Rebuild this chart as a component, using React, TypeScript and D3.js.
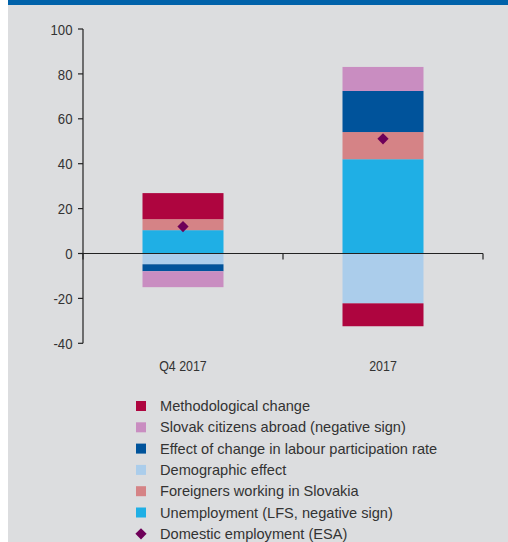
import React from "react";
import * as d3 from "d3";

const categories = ["Q4 2017", "2017"];
const seriesNames = [
  "Unemployment (LFS, negative sign)",
  "Foreigners working in Slovakia",
  "Demographic effect",
  "Effect of change in labour participation rate",
  "Slovak citizens abroad (negative sign)",
  "Methodological change",
];
const unemployment = [10.4, 42.0];
const foreigners = [4.9, 12.1];
const demographic = [-4.8, -22.2];
const participation = [-3.1, 18.3];
const slovakAbroad = [-7.1, 10.7];
const methodological = [11.6, -10.2];
const domesticEmployment = [12.0, 51.1];
const yTicks = [-40, -20, 0, 20, 40, 60, 80, 100];
const legendOrder = [
  "Methodological change",
  "Slovak citizens abroad (negative sign)",
  "Effect of change in labour participation rate",
  "Demographic effect",
  "Foreigners working in Slovakia",
  "Unemployment (LFS, negative sign)",
];
const colors: Record<string, string> = {
  "Methodological change": "#AE053F",
  "Slovak citizens abroad (negative sign)": "#C98DC1",
  "Effect of change in labour participation rate": "#00539B",
  "Demographic effect": "#ABCDEB",
  "Foreigners working in Slovakia": "#D58386",
  "Unemployment (LFS, negative sign)": "#1FAFE5",
};
const diamondColor = "#6E0059";
const diamondLabel = "Domestic employment (ESA)";

export default function App() {
  const W = 508, H = 542;
  const seriesValues = [unemployment, foreigners, demographic, participation, slovakAbroad, methodological];
  const rows = categories.map((c, i) => {
    const r: any = { cat: c };
    seriesNames.forEach((s, k) => (r[s] = seriesValues[k][i]));
    return r;
  });
  const stacked = d3.stack<any>().keys(seriesNames).offset(d3.stackOffsetDiverging)(rows);
  const x = d3.scaleBand().domain(categories).range([83, 483]).paddingInner(0).paddingOuter(0);
  const y = d3.scaleLinear().domain([-40, 100]).range([343.3, 29]);
  const barW = 81;
  const tickFont = "'Liberation Sans', Arial, sans-serif";
  const legFont = "'Liberation Sans', Arial, sans-serif";
  const legX = 136, legY0 = 406, legStep = 21.3;
  const diamond = d3.symbol().type(d3.symbolDiamond2).size(80)();
  const narrow = 0.85;
  return (
    <svg width={W} height={H} style={{ position: "absolute", left: 0, top: 0 }}>
      <rect x={0} y={0} width={W} height={H} fill="#ffffff" />
      <rect x={8} y={0} width={W - 8} height={5} fill="#0062AA" />
      <rect x={8} y={5} width={W - 8} height={H - 5} fill="#DCDDDF" />
      {stacked.map((s) =>
        s.map((d, i) => (
          <rect
            key={s.key + i}
            x={(x(categories[i]) as number) + x.bandwidth() / 2 - barW / 2}
            width={barW}
            y={y(Math.max(d[0], d[1]))}
            height={Math.abs(y(d[0]) - y(d[1]))}
            fill={colors[s.key]}
          />
        ))
      )}
      {/* y axis */}
      <line x1={83} x2={83} y1={y(100)} y2={y(-40)} stroke="#222" strokeWidth={1.2} />
      {yTicks.map((t) => (
        <g key={t}>
          <line x1={78} x2={83} y1={y(t)} y2={y(t)} stroke="#222" strokeWidth={1.2} />
          <text transform={`translate(72.5,${y(t) + 5.6}) scale(${narrow},1)`} textAnchor="end" fontFamily={tickFont} fontSize={15.5} fill="#333">
            {t}
          </text>
        </g>
      ))}
      {/* x axis */}
      <line x1={83} x2={483} y1={y(0)} y2={y(0)} stroke="#222" strokeWidth={1.2} />
      {[83, 283, 483].map((px, i) => (
        <line key={i} x1={px} x2={px} y1={y(0)} y2={y(0) + 6} stroke="#222" strokeWidth={1.2} />
      ))}
      {categories.map((c) => (
        <text key={c} transform={`translate(${(x(c) as number) + x.bandwidth() / 2},371) scale(0.8,1)`} textAnchor="middle" fontFamily={tickFont} fontSize={15.5} fill="#333">
          {c}
        </text>
      ))}
      {domesticEmployment.map((v, i) => (
        <path key={i} d={diamond as string} transform={`translate(${(x(categories[i]) as number) + x.bandwidth() / 2},${y(v)})`} fill={diamondColor} />
      ))}
      {/* legend */}
      {legendOrder.map((name, i) => (
        <g key={name}>
          <rect x={legX} y={legY0 + i * legStep - 5} width={10} height={10} fill={colors[name]} />
          <text x={160} y={legY0 + i * legStep + 5} fontFamily={legFont} fontSize={14.6} fill="#333">
            {name}
          </text>
        </g>
      ))}
      <path d={diamond as string} transform={`translate(${legX + 5},${legY0 + 6 * legStep})`} fill={diamondColor} />
      <text x={160} y={legY0 + 6 * legStep + 5} fontFamily={legFont} fontSize={14.6} fill="#333">
        {diamondLabel}
      </text>
    </svg>
  );
}
